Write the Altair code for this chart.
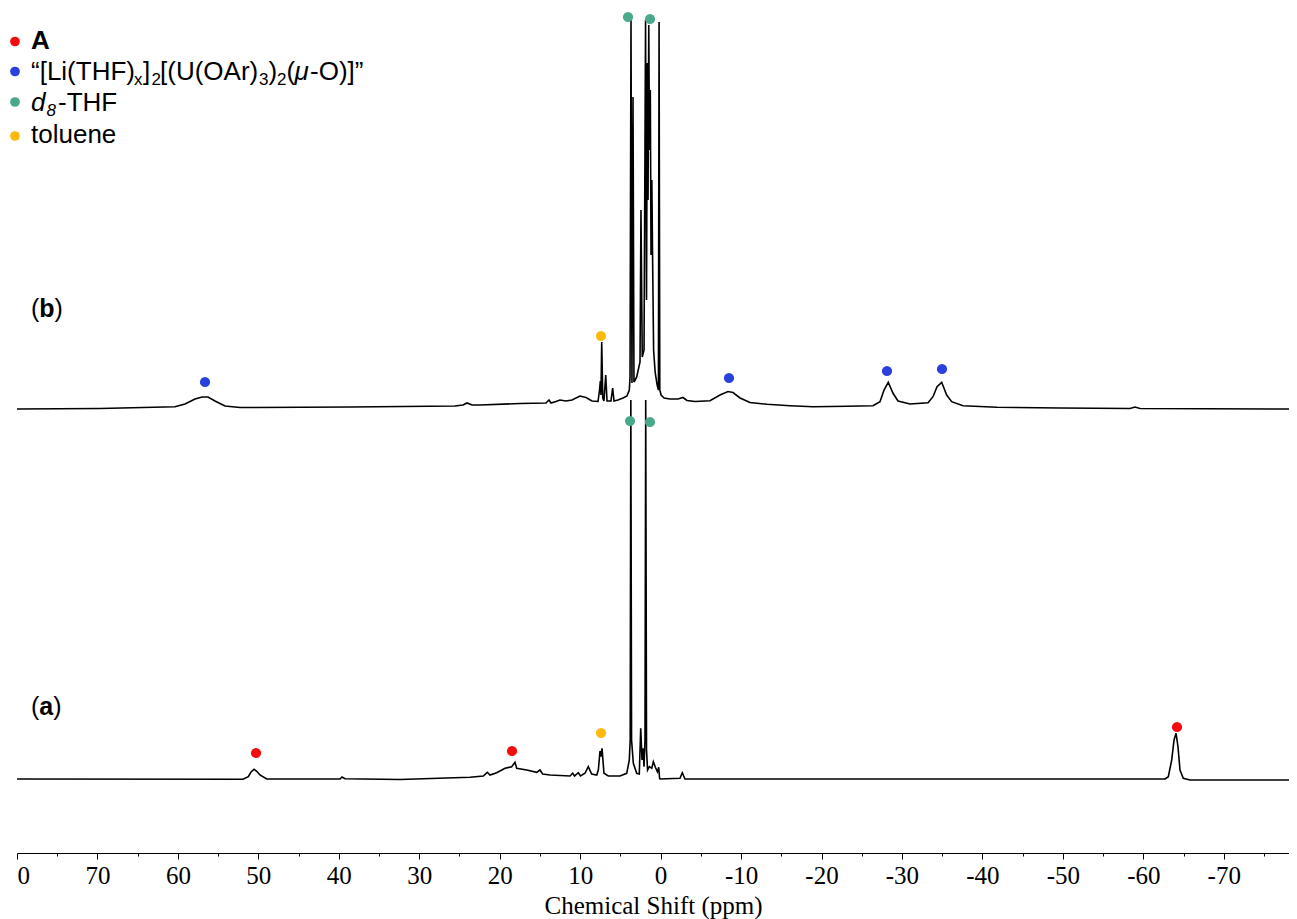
import altair as alt
import pandas as pd

# ---------------- spectrum (b) : chemical shift (ppm) and intensity above its baseline
ppm_b = [80.0, 69.68, 60.36, 59.12, 57.87, 57.0, 56.26, 55.39, 54.15, 52.28, 38.61, 25.56, 24.56, 24.06, 23.44, 22.45,
         17.48, 14.25, 13.87, 13.62, 13.0, 12.51, 11.76, 11.01, 10.02, 9.27, 8.53, 7.78, 7.59, 7.49, 7.41, 7.32, 7.19,
         7.04, 6.82, 6.66, 6.17, 5.96, 5.79, 5.3, 4.68, 4.18, 3.89, 3.80, 3.68, 3.56, 3.43, 3.31, 2.97, 2.56, 2.44,
         2.28, 2.06, 1.87, 1.75, 1.65, 1.56, 1.47, 1.38, 1.28, 1.19, 1.09, 1.0, 0.87, 0.68, 0.43, 0.27, 0.19, 0.10,
         -0.06, -0.43, -1.17, -2.16, -2.78, -3.28, -4.28, -6.14, -7.38, -8.38, -9.0, -9.87, -11.11, -13.23, -16.08,
         -18.94, -23.17, -26.4, -27.27, -27.77, -28.3, -28.89, -29.51, -31.0, -33.24, -33.86, -34.36, -34.94, -35.56,
         -36.18, -37.59, -41.81, -49.64, -58.35, -58.97, -59.59, -78.11]
int_b = [-1, -0.5, 1.3, 4, 9, 11, 11, 7, 2, 0.5, 1, 2, 3, 5, 3, 3,
         4.5, 5, 8, 5, 6.5, 8, 7, 8, 12, 10.5, 7, 6.5, 18, 27, 13, 66, 10,
         7, 33, 7, 7, 20, 7, 8, 10, 12, 18, 31, 388, 25, 311, 26, 31, 46, 198,
         51, 58, 388, 108, 345, 208, 383, 258, 318, 153, 228, 153, 58, 36, 23, 18, 386, 18,
         13, 10, 9, 9, 10.5, 7.5, 6.5, 7.3, 13, 16.5, 15.5, 10, 5.5, 3.7, 2.3,
         1.3, 1.7, 2.3, 6.3, 18, 25.7, 14.7, 7, 4, 5.3, 11.3, 21.3, 25.7, 13,
         6.3, 2.3, 0.7, 0, -0.5, 1, -0.5, -1]

# ---------------- spectrum (a)
ppm_a = [80.0, 51.91, 51.25, 50.91, 50.54, 50.17, 49.8, 48.96, 39.85, 39.6, 39.23, 32.39, 23.69, 22.04, 21.54, 21.21,
         20.37, 19.34, 18.51, 18.1, 17.89, 16.64, 15.4, 15.0, 14.66, 13.75, 11.26, 10.93, 10.7, 10.23, 9.96, 9.4, 8.99,
         8.57, 7.94, 7.74, 7.53, 7.41, 7.28, 7.04, 6.5, 5.05, 4.21, 3.89, 3.78, 3.7, 3.61, 3.39, 2.97, 2.65, 2.47, 2.31,
         2.19, 2.06, 1.94, 1.85, 1.75, 1.62, 1.4, 1.1, 0.9, 0.65, 0.4, 0.23, 0.13, 0.07, -2.41, -2.7, -3.03, -4.9,
         -62.7, -63.11, -63.53, -63.82, -64.07, -64.31, -64.56, -64.97, -65.8, -78.11]
int_a = [0, -0.3, 2.3, 7, 9.7, 7.5, 4, 0, 0, 2, 0.3, -0.5, 1.7, 3, 6.7, 4,
         6.3, 10.7, 12.3, 16.7, 10.7, 9, 6.7, 9, 5, 4, 3, 5.7, 3, 6.3, 3, 5.7, 12.3,
         5, 4, 9, 28, 22.3, 30.7, 5.7, 3, 3, 5.7, 19, 39, 379, 39, 15.7, 5.7, 5, 50.7, 19,
         30.7, 12.3, 39, 379, 29, 9, 12.3, 10.7, 17.3, 11.7, 7.3, 11.7, 1, 0, 0.7, 6.3, 0, 0,
         0, 2.3, 19, 39, 45.7, 32.3, 9, 0.7, -1, -1]

# vertical stacking offsets of the two spectra
offset_b = 445
offset_a = 74

# ---------------- peak assignment markers
marker_trace = ["b", "b", "b", "b", "b", "b", "b", "a", "a", "a", "a", "a", "a"]
marker_ppm = [56.63, -8.5, -28.14, -34.98, 7.41, 4.05, 1.32, 50.29, 18.47, 7.41, 3.8, 1.32, -64.19]
marker_int = [26, 30, 37, 39, 72, 391, 389, 26, 28, 46, 358, 357, 52]
marker_species = ["blue", "blue", "blue", "blue", "toluene", "THF", "THF",
                  "A", "A", "toluene", "THF", "THF", "A"]

species = ["A", "blue", "THF", "toluene"]
species_colors = ["#f40b0b", "#2a40dc", "#4aa98c", "#fbba0c"]

tick_values = list(range(80, -80, -5))
x_domain = [80, -78.11]

# ---------------- tables
df_b = pd.DataFrame({"ppm": ppm_b, "y": [offset_b + v for v in int_b], "idx": list(range(len(ppm_b))), "trace": "b"})
df_a = pd.DataFrame({"ppm": ppm_a, "y": [offset_a + v for v in int_a], "idx": list(range(len(ppm_a))), "trace": "a"})
spec = pd.concat([df_a, df_b], ignore_index=True)

off = {"a": offset_a, "b": offset_b}
markers = pd.DataFrame({
    "ppm": marker_ppm,
    "y": [off[t] + v for t, v in zip(marker_trace, marker_int)],
    "species": marker_species,
})

x_scale = alt.Scale(domain=x_domain, nice=False, zero=False)
y_scale = alt.Scale(domain=[0, 843], nice=False, zero=False)

x_axis = alt.Axis(
    values=tick_values,
    title="Chemical Shift (ppm)",
    titleFont="Liberation Serif", titleFontSize=25, titleFontWeight="normal", titleColor="black",
    titlePadding=5,
    labelFont="Liberation Serif", labelFontSize=25, labelColor="black",
    labelExpr="datum.value % 10 === 0 ? (datum.value === 80 ? '0' : '' + datum.value) : ''",
    labelFlush=True, labelOverlap=False, labelPadding=4,
    tickColor="black", domainColor="black", domainWidth=1, tickWidth=1,
    tickSize={"condition": {"test": "datum.value % 10 === 0", "value": 6}, "value": 3},
    grid=False,
)

lines = alt.Chart(spec).mark_line(color="black", strokeWidth=1.6).encode(
    x=alt.X("ppm:Q", scale=x_scale, axis=x_axis),
    y=alt.Y("y:Q", scale=y_scale, axis=None),
    detail="trace:N",
    order="idx:Q",
)

dots = alt.Chart(markers).mark_point(filled=True, size=105, opacity=1).encode(
    x=alt.X("ppm:Q", scale=x_scale),
    y=alt.Y("y:Q", scale=y_scale),
    color=alt.Color("species:N", scale=alt.Scale(domain=species, range=species_colors), legend=None),
)


def txt(s, x, y, size=26, weight="normal", style="normal"):
    return alt.Chart(pd.DataFrame({"t": [s]})).mark_text(
        align="left", baseline="alphabetic", font="Liberation Sans", fontSize=size,
        fontWeight=weight, fontStyle=style, color="black",
    ).encode(x=alt.value(x), y=alt.value(y), text="t:N")


def ldot(color, y):
    return alt.Chart(pd.DataFrame({"c": [color]})).mark_point(filled=True, size=95, opacity=1).encode(
        x=alt.value(-2), y=alt.value(y), color=alt.value(color))


legend_layers = [
    ldot(species_colors[0], 31.5), ldot(species_colors[1], 61.5),
    ldot(species_colors[2], 92), ldot(species_colors[3], 126),
    txt("A", 14, 39, weight="bold"),
    txt("\u201c[Li(THF)", 14, 70),
    txt("x", 117, 75, size=17),
    txt("]", 126, 70),
    txt("2", 134.5, 75, size=17),
    txt("[(U(OAr)", 143, 70),
    txt("3", 242, 75, size=17),
    txt(")", 251.5, 70),
    txt("2", 260, 75, size=17),
    txt("(", 269.5, 70),
    txt("\u03bc", 277.5, 70, style="italic"),
    txt("-O)]\u201d", 293, 70),
    txt("d", 14, 101, style="italic"),
    txt("8", 29.5, 106, size=17, style="italic"),
    txt("-THF", 41, 101),
    txt("toluene", 14, 133),
    txt("(", 14, 307, size=25), txt("b", 22.3, 307, size=25, weight="bold"), txt(")", 37.6, 307, size=25),
    txt("(", 14, 705, size=25), txt("a", 22.3, 705, size=25, weight="bold"), txt(")", 36.2, 705, size=25),
]

chart = alt.layer(lines, dots, *legend_layers).properties(
    width=1272, height=843,
    padding={"left": 9, "top": 2, "right": 0, "bottom": 72},
    autosize=alt.AutoSizeParams(type="none"),
    background="white",
).configure_view(stroke=None)

chart.save("out.html", embed_options={"renderer": "svg", "actions": False})
